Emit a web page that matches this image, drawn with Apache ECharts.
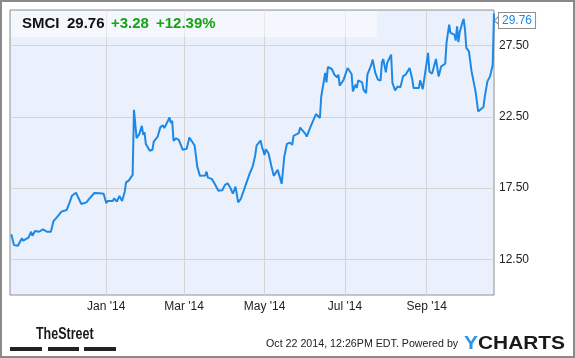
<!DOCTYPE html>
<html>
<head>
<meta charset="utf-8">
<script src="https://cdn.jsdelivr.net/npm/echarts@6/dist/echarts.min.js"></script>
<style>
html,body{margin:0;padding:0;background:#fff;}
#chart{width:575px;height:358px;}
</style>
</head>
<body>
<div id="chart"></div>
<script>
// ---- data ----
const ticker = 'SMCI';
const lastPrice = '29.76';
const change = '+3.28';
const changePct = '+12.39%';
const footerText = 'Oct 22 2014, 12:26PM EDT. Powered by';

const dates = [
'2013-10-21','2013-10-23','2013-10-24','2013-10-26','2013-10-29','2013-10-30','2013-11-03','2013-11-05','2013-11-06','2013-11-08',
'2013-11-11','2013-11-14','2013-11-17','2013-11-18','2013-11-20','2013-11-22','2013-11-25','2013-11-28','2013-12-02','2013-12-04',
'2013-12-06','2013-12-09','2013-12-11','2013-12-12','2013-12-13','2013-12-17','2013-12-19','2013-12-23','2013-12-27','2013-12-30',
'2013-12-31','2014-01-01','2014-01-02','2014-01-06','2014-01-07','2014-01-09','2014-01-11','2014-01-13','2014-01-15','2014-01-16',
'2014-01-18','2014-01-21','2014-01-22','2014-01-24','2014-01-26','2014-01-28','2014-01-29','2014-01-30','2014-01-31','2014-02-03',
'2014-02-05','2014-02-06','2014-02-09','2014-02-11','2014-02-13','2014-02-14','2014-02-18','2014-02-19','2014-02-20','2014-02-21',
'2014-02-23','2014-02-25','2014-02-26','2014-02-28','2014-03-03','2014-03-05','2014-03-09','2014-03-11','2014-03-12','2014-03-13',
'2014-03-17','2014-03-18','2014-03-19','2014-03-22','2014-03-24','2014-03-25','2014-03-27','2014-03-30','2014-04-01','2014-04-03',
'2014-04-05','2014-04-07','2014-04-09','2014-04-11','2014-04-13','2014-04-16','2014-04-20','2014-04-22','2014-04-24','2014-04-25',
'2014-04-28','2014-04-29','2014-04-30','2014-05-01','2014-05-02','2014-05-04','2014-05-06','2014-05-08','2014-05-11','2014-05-14',
'2014-05-16','2014-05-18','2014-05-19','2014-05-20','2014-05-22','2014-05-23','2014-05-27','2014-05-28','2014-06-01','2014-06-02',
'2014-06-05','2014-06-06','2014-06-09','2014-06-10','2014-06-12','2014-06-13','2014-06-16','2014-06-17','2014-06-18','2014-06-21',
'2014-06-23','2014-06-25','2014-06-26','2014-06-27','2014-06-30','2014-07-03','2014-07-06','2014-07-07','2014-07-09','2014-07-10',
'2014-07-11','2014-07-14','2014-07-15','2014-07-17','2014-07-18','2014-07-21','2014-07-22','2014-07-24','2014-07-26','2014-07-28',
'2014-07-29','2014-07-30','2014-08-01','2014-08-02','2014-08-05','2014-08-06','2014-08-07','2014-08-08','2014-08-10','2014-08-11',
'2014-08-12','2014-08-14','2014-08-16','2014-08-19','2014-08-21','2014-08-22','2014-08-26','2014-08-27','2014-08-29','2014-09-02',
'2014-09-03','2014-09-05','2014-09-08','2014-09-10','2014-09-12','2014-09-15','2014-09-16','2014-09-18','2014-09-19','2014-09-22',
'2014-09-23','2014-09-24','2014-09-25','2014-09-26','2014-09-28','2014-09-29','2014-09-30','2014-10-01','2014-10-03','2014-10-05',
'2014-10-08','2014-10-10','2014-10-14','2014-10-15','2014-10-16','2014-10-17','2014-10-19','2014-10-21','2014-10-22'
];
const prices = [
14.26,13.50,13.62,13.46,13.98,13.81,14.02,14.44,14.16,14.49,
14.44,14.61,14.44,14.37,14.44,15.19,15.50,15.85,15.97,16.44,
16.97,17.18,16.79,16.74,16.39,16.50,16.74,17.16,17.14,17.11,
17.02,16.44,16.60,16.60,16.79,16.55,16.95,16.60,17.25,17.90,
18.03,18.43,23.00,21.00,21.29,21.87,21.24,21.43,20.59,20.12,
20.19,20.77,21.12,21.78,21.90,21.71,22.46,22.06,22.23,20.82,
21.00,20.89,20.77,20.19,20.26,21.05,20.49,19.01,19.13,18.36,
18.38,18.66,18.24,18.15,17.84,17.96,17.32,17.35,17.73,17.84,
17.54,17.11,17.61,16.50,16.74,17.54,18.59,19.01,19.83,20.50,
20.84,20.42,20.38,19.83,20.23,19.95,19.13,18.36,18.78,17.80,
19.72,20.61,20.47,20.70,20.54,21.17,21.36,21.75,21.31,21.12,
21.83,21.94,22.70,22.72,22.42,23.93,25.58,24.92,26.00,25.86,
25.46,25.27,25.46,24.69,25.11,25.93,25.51,24.29,24.76,24.53,
25.06,24.92,24.41,24.17,25.46,26.16,26.52,25.58,25.11,25.04,
26.33,26.56,25.62,26.28,26.87,24.88,24.76,24.36,24.64,24.69,
24.57,25.34,25.46,25.93,25.16,24.52,24.52,25.06,24.45,26.99,
25.69,25.53,26.56,25.34,26.05,26.23,27.69,28.98,28.39,28.27,
27.85,28.86,27.74,28.44,29.10,29.38,28.63,27.34,27.10,25.69,
24.29,22.88,23.19,23.90,24.00,24.99,25.34,26.16,29.76
];
const xRange = ['2013-10-20', '2014-10-22'];
const xTickDates = ['2014-01-01','2014-03-01','2014-05-01','2014-07-01','2014-09-01'];
const xTickLabels = ["Jan '14","Mar '14","May '14","Jul '14","Sep '14"];
const yTicks = [12.5, 17.5, 22.5, 27.5];
const yRange = [10, 30];

// ---- chart ----
const BLUE = '#1E88E5';
const GREEN = '#17a317';
const TXT = '#222';
const FONT = '"Liberation Sans", Arial, sans-serif';

function toTime(s) { const p = s.split('-').map(Number); return Date.UTC(p[0], p[1] - 1, p[2]); }
const xTickTimes = xTickDates.map(toTime);

const seriesData = dates.map((d, i) => [toTime(d), prices[i]]);
const last = seriesData[seriesData.length - 1];

const chart = echarts.init(document.getElementById('chart'), null, {renderer: 'canvas'});
chart.setOption({
  animation: false,
  backgroundColor: '#fff',
  grid: {
    left: 10, right: 81, top: 10, bottom: 63,
    show: true, backgroundColor: '#EBF1FC', borderColor: '#8e8e8e', borderWidth: 1
  },
  xAxis: {
    type: 'value',
    min: toTime(xRange[0]), max: toTime(xRange[1]),
    axisLine: {show: false},
    axisTick: {show: false, customValues: xTickTimes},
    axisLabel: {
      customValues: xTickTimes,
      color: TXT, fontFamily: FONT, fontSize: 12, margin: 6,
      formatter: function (v) { const i = xTickTimes.indexOf(v); return i >= 0 ? xTickLabels[i] : ''; }
    },
    splitLine: {show: true, lineStyle: {color: '#d4d4d4', width: 1}}
  },
  yAxis: {
    type: 'value', position: 'right',
    min: yRange[0], max: yRange[1],
    axisLine: {show: false},
    axisTick: {show: false, customValues: yTicks},
    axisLabel: {
      customValues: yTicks,
      color: TXT, fontFamily: FONT, fontSize: 12, margin: 5,
      formatter: function (v) { return v.toFixed(2); }
    },
    splitLine: {show: true, lineStyle: {color: '#d4d4d4', width: 1}}
  },
  series: [{
    type: 'line',
    data: seriesData,
    showSymbol: false,
    symbol: 'none',
    clip: false,
    z: 5,
    lineStyle: {color: BLUE, width: 2},
    endLabel: {
      show: true,
      formatter: function () { return lastPrice; },
      color: BLUE, fontFamily: FONT, fontSize: 12,
      backgroundColor: '#fff', borderColor: '#8e8e8e', borderWidth: 1,
      padding: [2, 3, 1, 3],
      distance: 5,
      offset: [0, 7]
    },
    markPoint: {
      silent: true,
      symbol: 'path://M6,0 L0,5 L6,10',
      symbolSize: [6, 10],
      symbolOffset: [3, 7],
      itemStyle: {color: '#fff', borderColor: '#8e8e8e', borderWidth: 1},
      label: {show: false},
      data: [{coord: last}]
    }
  }],
  graphic: [
    {type: 'rect', z: 1, silent: true, shape: {x: 11, y: 11, width: 366, height: 26}, style: {fill: 'rgba(255,255,255,0.45)'}},
    {type: 'text', z: 10, x: 22, y: 24, style: {text: ticker, font: 'bold 15px ' + FONT, fill: '#111', verticalAlign: 'middle'}},
    {type: 'text', z: 10, x: 67, y: 24, style: {text: lastPrice, font: 'bold 15px ' + FONT, fill: '#111', verticalAlign: 'middle'}},
    {type: 'text', z: 10, x: 111, y: 24, style: {text: change, font: 'bold 15px ' + FONT, fill: GREEN, verticalAlign: 'middle'}},
    {type: 'text', z: 10, x: 156, y: 24, style: {text: changePct, font: 'bold 15px ' + FONT, fill: GREEN, verticalAlign: 'middle'}},
    // footer
    {type: 'text', z: 10, x: 36, y: 335, scaleX: 0.78, style: {text: 'TheStreet', font: 'bold 16px ' + FONT, fill: '#1a1a1a', verticalAlign: 'middle'}},
    {type: 'rect', z: 10, shape: {x: 10, y: 347, width: 32, height: 4}, style: {fill: '#222'}},
    {type: 'rect', z: 10, shape: {x: 48, y: 347, width: 31, height: 4}, style: {fill: '#222'}},
    {type: 'rect', z: 10, shape: {x: 84, y: 347, width: 32, height: 4}, style: {fill: '#222'}},
    {type: 'text', z: 10, x: 266, y: 344, scaleX: 0.97, style: {text: footerText, font: '11px ' + FONT, fill: TXT, verticalAlign: 'middle'}},
    {type: 'text', z: 10, x: 464, y: 344, scaleX: 1.1, style: {
      text: '{y|Y}{c|CHARTS}', verticalAlign: 'middle',
      rich: {
        y: {font: 'bold 19px ' + FONT, fill: '#2a95ea'},
        c: {font: 'bold 19px ' + FONT, fill: '#1a1a1a'}
      }
    }},
    // outer frame
    {type: 'rect', z: 20, silent: true, shape: {x: 1, y: 1, width: 573, height: 356}, style: {fill: 'none', stroke: '#8a8a8a', lineWidth: 2}}
  ]
});
</script>
</body>
</html>
